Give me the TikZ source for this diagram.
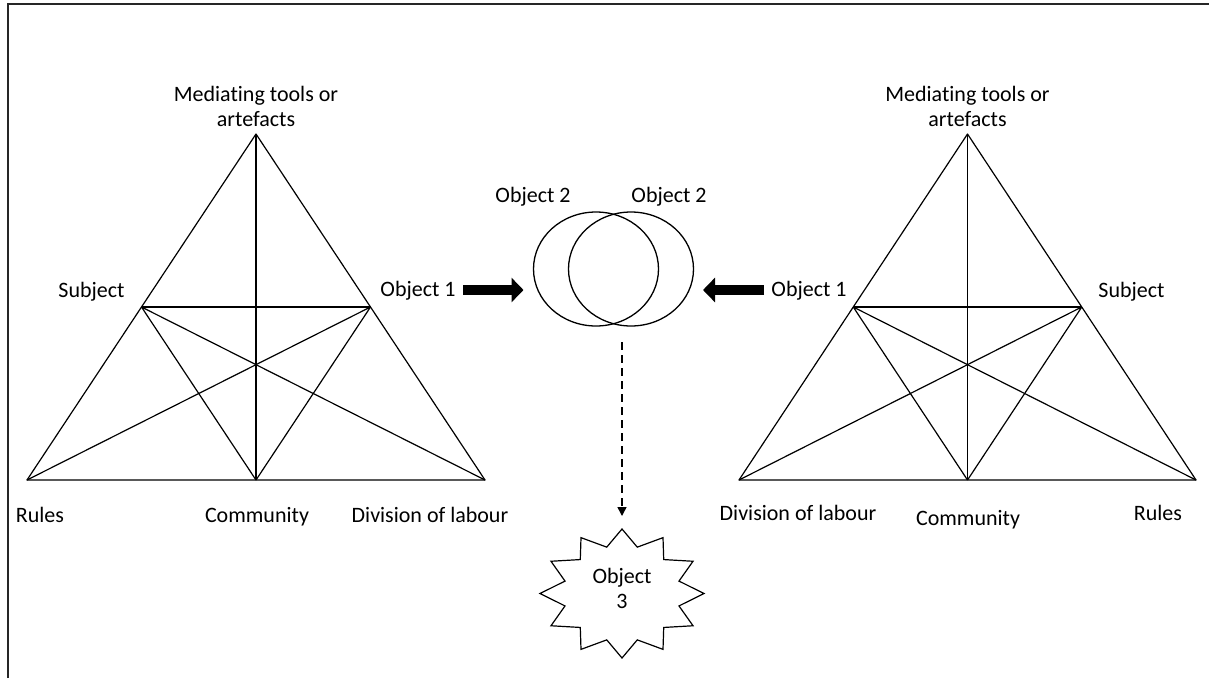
\documentclass[tikz,border=0pt]{standalone}
\usepackage{fontspec}
\setmainfont{Carlito}[Ligatures=NoCommon]
\usetikzlibrary{arrows.meta,shapes.geometric,calc}
\begin{document}
\begin{tikzpicture}[x=1pt,y=-1pt,
  every node/.style={font=\fontsize{22}{25}\selectfont, inner sep=0pt},
  lbl/.style={anchor=base},
  twoline/.style={align=center, anchor=base},
  edge/.style={line width=1.2pt, line join=round},
  frame/.style={line width=1.6pt, draw=black!85},
  fat/.style={line width=10pt, -{Triangle[length=12pt,width=24pt]}},
  obj/.style={ellipse, draw, line width=1.3pt, minimum width=125pt, minimum height=114pt}]
\useasboundingbox (0,0) rectangle (1209,678);
% open frame: left and top edges
\draw[frame] (8,678) -- (8,4) -- (1209,4);

% ---- left activity system ----
\coordinate (LA) at (256,134);
\coordinate (LB1) at (27,480);
\coordinate (LB2) at (485,480);
\coordinate (LM) at (256,480);
\coordinate (LS) at ($(LA)!0.5!(LB1)$);
\coordinate (LO) at ($(LA)!0.5!(LB2)$);
\draw[edge] (LA) -- (LB1) -- (LB2) -- cycle;
\draw[edge] (LA) -- (LM);
\draw[edge] (LS) -- (LO);
\draw[edge] (LS) -- (LM) (LS) -- (LB2);
\draw[edge] (LO) -- (LM) (LO) -- (LB1);

\node[twoline] (Lmed) at (256,126) {Mediating tools or\\artefacts};
\node[lbl] (Lsub) at (91.5,297) {Subject};
\node[lbl] (Lobj) at (418,296) {Object 1};
\node[lbl] (Lrul) at (40,522) {Rules};
\node[lbl] (Lcom) at (257,522) {Community};
\node[lbl] (Ldiv) at (430,522) {Division of labour};

% ---- right activity system ----
\coordinate (RA) at (967.5,134);
\coordinate (RB1) at (739,480);
\coordinate (RB2) at (1196,480);
\coordinate (RM) at (967.5,480);
\coordinate (RO) at ($(RA)!0.5!(RB1)$);
\coordinate (RS) at ($(RA)!0.5!(RB2)$);
\draw[edge] (RA) -- (RB1) -- (RB2) -- cycle;
\draw[edge] (RA) -- (RM);
\draw[edge] (RO) -- (RS);
\draw[edge] (RO) -- (RM) (RO) -- (RB2);
\draw[edge] (RS) -- (RM) (RS) -- (RB1);

\node[twoline] (Rmed) at (967.5,126) {Mediating tools or\\artefacts};
\node[lbl] (Rsub) at (1131.5,297) {Subject};
\node[lbl] (Robj) at (809,296) {Object 1};
\node[lbl] (Rdiv) at (798,520) {Division of labour};
\node[lbl] (Rcom) at (968,525) {Community};
\node[lbl] (Rrul) at (1158,520) {Rules};

% ---- shared object ----
\node[obj] (O2a) at (596,269) {};
\node[obj] (O2b) at (631,269) {};
\node[lbl] (O2al) at (533,202) {Object 2};
\node[lbl] (O2bl) at (669,202) {Object 2};

\coordinate (aLs) at (463,290);
\coordinate (aLe) at (523.5,290);
\coordinate (aRs) at (764,290);
\coordinate (aRe) at (703,290);
\draw[fat] (aLs) -- (aLe);
\draw[fat] (aRs) -- (aRe);

% ---- potentially shared object 3 ----
\draw[line width=1.2pt, line join=miter]
  plot[samples at={0,...,23}, variable=\k]
  ({622+ifthenelse(mod(\k,2)==0,82,59)*cos(90+15*\k)},
   {593.5-ifthenelse(mod(\k,2)==0,64.5,48)*sin(90+15*\k)}) -- cycle;
\node[align=center] (O3) at (622,588) {Object\\3};

\coordinate (dS) at (622,342);
\coordinate (dE) at (622,516);
\draw[line width=1.5pt, dash pattern=on 8pt off 5pt,
      -{Triangle[length=9pt,width=9pt]}] (dS) -- (dE);
\end{tikzpicture}
\end{document}
